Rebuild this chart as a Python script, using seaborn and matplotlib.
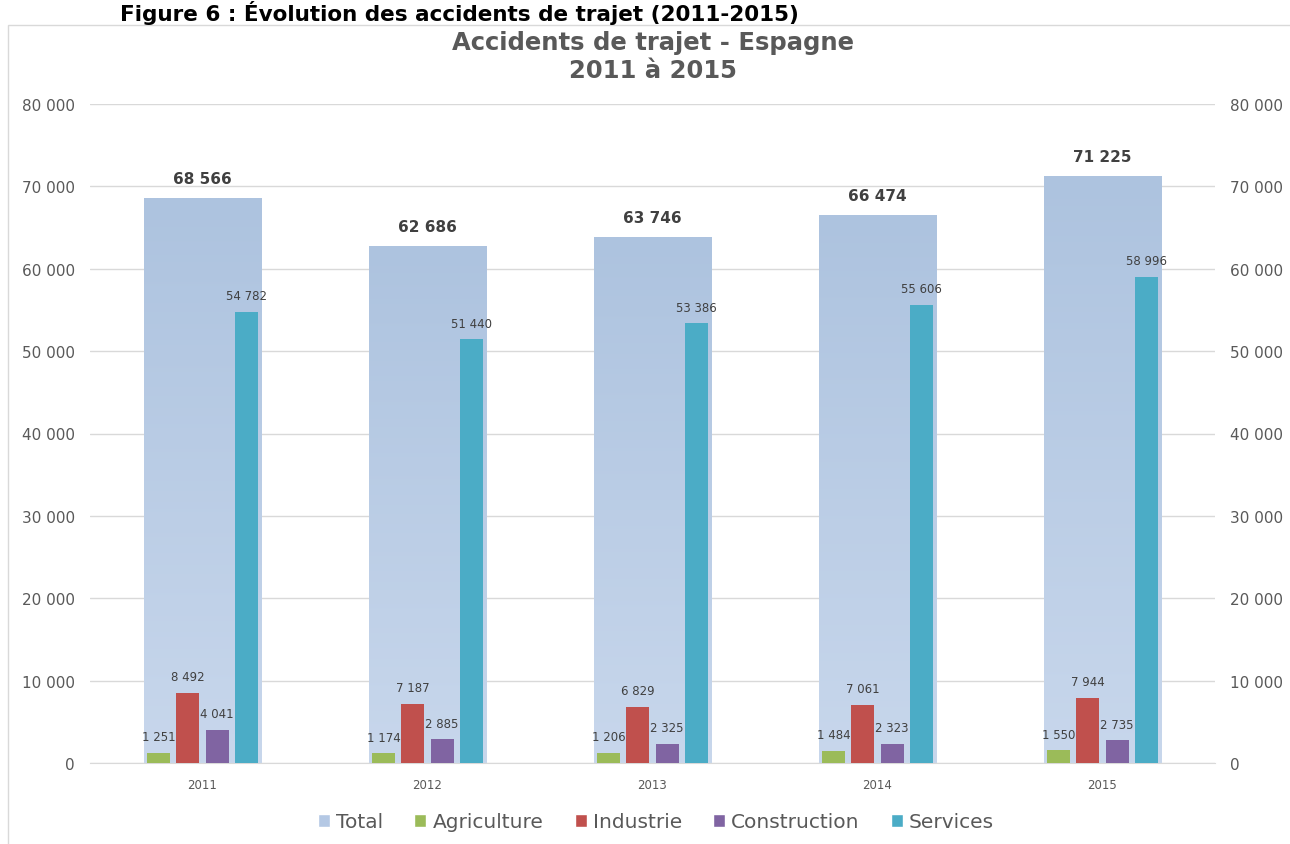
import numpy as np
import pandas as pd
import matplotlib
matplotlib.use("Agg")
import matplotlib.pyplot as plt
from matplotlib.patches import Patch, Rectangle
from matplotlib.colors import LinearSegmentedColormap
import seaborn as sns

# ---- data ----
years = ["2011", "2012", "2013", "2014", "2015"]
total = [68566, 62686, 63746, 66474, 71225]
agriculture = [1251, 1174, 1206, 1484, 1550]
industrie = [8492, 7187, 6829, 7061, 7944]
construction = [4041, 2885, 2325, 2323, 2735]
services = [54782, 51440, 53386, 55606, 58996]
sectors = ["Agriculture", "Industrie", "Construction", "Services"]
y_ticks = [0, 10000, 20000, 30000, 40000, 50000, 60000, 70000, 80000]

sns.set_style("white")
plt.rcParams["font.family"] = ["DejaVu Sans"]

c_total_top = "#adc3df"
c_total_bot = "#c8d7ec"
c_total_leg = "#b4c8e4"
palette = {"Agriculture": "#9bbb59", "Industrie": "#c0504d",
           "Construction": "#8064a2", "Services": "#4bacc6"}
txt = "#404040"
axc = "#595959"
grid_c = "#d9d9d9"

def fmt(v):
    return f"{int(v):,}".replace(",", " ")

df_total = pd.DataFrame({"year": years, "Total": total})
df_sec = pd.DataFrame({"year": years, "Agriculture": agriculture,
                       "Industrie": industrie, "Construction": construction,
                       "Services": services})
long = df_sec.melt(id_vars="year", var_name="sector", value_name="value")

fig = plt.figure(figsize=(12.9, 8.45), dpi=100)
ax = fig.add_axes([90 / 1290, 1 - 764 / 845, (1215 - 90) / 1290, (764 - 105) / 845])

sns.barplot(data=df_total, x="year", y="Total", color=c_total_top, width=0.524,
            saturation=1, errorbar=None, ax=ax, zorder=2, linewidth=0,
            edgecolor="none")
sns.barplot(data=long, x="year", y="value", hue="sector", hue_order=sectors,
            palette=palette, width=0.52, gap=0.215, saturation=1, errorbar=None,
            ax=ax, legend=False, zorder=3, linewidth=0, edgecolor="none")

ax.set_ylim(0, 80000)
ax.set_xlim(-0.5, len(years) - 0.5)

# gradient fill for Total bars
cmap = LinearSegmentedColormap.from_list("tot", [c_total_bot, c_total_top])
grad = np.linspace(0, 1, 256).reshape(-1, 1)
for p in ax.containers[0].patches:
    x0, y0 = p.get_x(), p.get_y()
    w, h = p.get_width(), p.get_height()
    ax.imshow(grad, extent=[x0, x0 + w, y0, y0 + h], origin="lower",
              cmap=cmap, aspect="auto", zorder=2.1, interpolation="bilinear")
    p.set_alpha(0)
ax.set_ylim(0, 80000)
ax.set_xlim(-0.5, len(years) - 0.5)

# labels
ax.bar_label(ax.containers[0], labels=[fmt(v) for v in total], padding=9,
             fontsize=11, fontweight="bold", color=txt)
for cont, vals in zip(ax.containers[1:5], [agriculture, industrie, construction, services]):
    ax.bar_label(cont, labels=[fmt(v) for v in vals], padding=7, fontsize=8.5, color=txt)

# axes styling
ax.set_yticks(y_ticks)
ax.set_yticklabels([fmt(v) for v in y_ticks])
ax.yaxis.grid(True, color=grid_c, lw=1, zorder=0)
ax.set_axisbelow(True)
ax.set_xlabel("")
ax.set_ylabel("")
for s in ["left", "right", "top"]:
    ax.spines[s].set_visible(False)
ax.spines["bottom"].set_color(grid_c)
ax.tick_params(axis="y", length=0, pad=11, labelsize=11, labelcolor=axc)
ax.tick_params(axis="x", length=0, pad=11, labelsize=8.5, labelcolor=axc)

ax2 = ax.twinx()
ax2.set_ylim(0, 80000)
ax2.set_yticks(y_ticks)
ax2.set_yticklabels([fmt(v) for v in y_ticks])
for s in ["left", "right", "top", "bottom"]:
    ax2.spines[s].set_visible(False)
ax2.tick_params(axis="y", length=0, pad=11, labelsize=11, labelcolor=axc)
ax2.grid(False)

# titles
fig.text(653 / 1290, 1 - 57 / 845, "Accidents de trajet - Espagne\n2011 à 2015",
         ha="center", va="center", fontsize=17.5, fontweight="bold", color=axc,
         linespacing=1.2)
fig.text(120 / 1290, 1 - 1 / 845,
         "Figure 6 : Évolution des accidents de trajet (2011-2015)",
         ha="left", va="top", fontsize=15.5, fontweight="bold", color="black")

# chart border
fig.patches.append(Rectangle((8 / 1290, -0.01), 1.02, 1 - 26 / 845 + 0.01,
                             transform=fig.transFigure, fill=False,
                             edgecolor=grid_c, lw=1))

# legend
handles = [Patch(facecolor=c_total_leg, label="Total")] + \
          [Patch(facecolor=palette[s], label=s) for s in sectors]
fig.legend(handles=handles, loc="center", bbox_to_anchor=(656 / 1290, 1 - 823 / 845),
           ncol=5, frameon=False, fontsize=14.5, handlelength=0.6, handleheight=0.6,
           handletextpad=0.3, columnspacing=1.55, labelcolor=axc)

fig.savefig("out.png", dpi=100)
